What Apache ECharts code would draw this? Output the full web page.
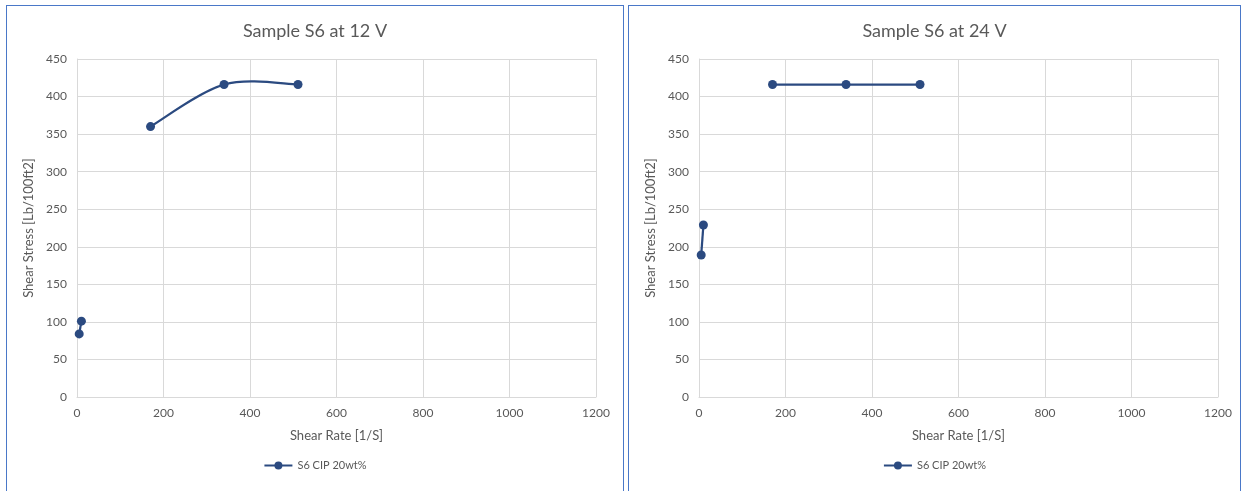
<!DOCTYPE html>
<html>
<head>
<meta charset="utf-8">
<script src="https://cdn.jsdelivr.net/npm/echarts@6/dist/echarts.min.js"></script>
<style>
  html, body { margin: 0; padding: 0; background: #ffffff; width: 1243px; height: 491px; overflow: hidden; }
  .panel { position: absolute; box-sizing: border-box; border: 1px solid #4a78c8; background: #fff; }
  #p1 { left: 6px; top: 5px; width: 618px; height: 500px; }
  #p2 { left: 628px; top: 5px; width: 613px; height: 500px; }
</style>
</head>
<body>
<div id="p1" class="panel"></div>
<div id="p2" class="panel"></div>
<script>
// Shear rate [1/S] and shear stress [Lb/100ft2]
const lowRate12 = [5.1, 10.2];
const lowStress12 = [84, 101];
const highRate12 = [170, 340, 511];
const highStress12 = [360, 416, 416];

const lowRate24 = [5.1, 10.2];
const lowStress24 = [189, 229];
const highRate24 = [170, 340, 511];
const highStress24 = [416, 416, 416];

const xTicks = [0, 200, 400, 600, 800, 1000, 1200];
const yTicks = [0, 50, 100, 150, 200, 250, 300, 350, 400, 450];

const titles = ['Sample S6 at 12 V', 'Sample S6 at 24 V'];
const seriesName = 'S6 CIP 20wt%';
const xName = 'Shear Rate [1/S]';
const yName = 'Shear Stress [Lb/100ft2]';

const FONT = 'Lato, "Liberation Sans", sans-serif';
const TXT = '#595959';
const GRID = '#d9d9d9';
const LINE = '#2b4a80';

function pairs(xs, ys) { return xs.map((x, i) => [x, ys[i]]); }

// Excel-style smoothed curve (Catmull-Rom based Bezier) through the data, via the axes' scales
function smoothCurveSeries(data) {
  return {
    type: 'custom',
    name: 'curve',
    coordinateSystem: 'cartesian2d',
    data: data,
    z: 2,
    silent: true,
    animation: false,
    renderItem: function (params, api) {
      if (params.dataIndex !== 0) return null;
      const pts = data.map(d => api.coord(d));
      const n = pts.length;
      const tan = pts.map((p, i) => {
        const a = pts[Math.max(0, i - 1)];
        const b = pts[Math.min(n - 1, i + 1)];
        return [(b[0] - a[0]) / 6, (b[1] - a[1]) / 6];
      });
      const pathData = [];
      pathData.push('M' + pts[0][0] + ' ' + pts[0][1]);
      for (let i = 0; i < n - 1; i++) {
        const p0 = pts[i], p1 = pts[i + 1];
        const c1 = [p0[0] + tan[i][0], p0[1] + tan[i][1]];
        const c2 = [p1[0] - tan[i + 1][0], p1[1] - tan[i + 1][1]];
        pathData.push('C' + c1[0] + ' ' + c1[1] + ' ' + c2[0] + ' ' + c2[1] + ' ' + p1[0] + ' ' + p1[1]);
      }
      return {
        type: 'path',
        shape: { pathData: pathData.join(' ') },
        style: { fill: null, stroke: LINE, lineWidth: 2.25 }
      };
    }
  };
}

function makeOption(title, lowX, lowY, highX, highY) {
  const mk = (data, showLine) => ({
    name: seriesName,
    type: 'line',
    data: data,
    smooth: false,
    symbol: 'circle',
    symbolSize: 9,
    z: 3,
    itemStyle: { color: LINE },
    lineStyle: { color: LINE, width: 2.25, opacity: showLine ? 1 : 0 },
    emphasis: { disabled: true },
    animation: false
  });
  const highData = pairs(highX, highY);
  return {
    animation: false,
    textStyle: { fontFamily: FONT },
    title: {
      text: title, left: 'center', top: 11,
      textStyle: { fontFamily: FONT, fontSize: 18, fontWeight: 'normal', color: TXT }
    },
    legend: {
      data: [seriesName], bottom: 28, left: 'center',
      itemWidth: 28, itemHeight: 10, itemGap: 4,
      textStyle: { fontFamily: FONT, fontSize: 11, color: TXT }
    },
    grid: { left: 70, top: 53, width: 519, height: 338 },
    xAxis: {
      type: 'value', min: xTicks[0], max: xTicks[xTicks.length - 1], interval: xTicks[1] - xTicks[0],
      name: xName, nameLocation: 'middle', nameGap: 32,
      nameTextStyle: { fontFamily: FONT, fontSize: 13, color: TXT },
      axisLine: { show: true, lineStyle: { color: GRID, width: 1 } },
      axisTick: { show: false },
      axisLabel: { fontFamily: FONT, fontSize: 12, color: TXT, margin: 10, formatter: v => String(v) },
      splitLine: { show: true, lineStyle: { color: GRID, width: 1 } }
    },
    yAxis: {
      type: 'value', min: yTicks[0], max: yTicks[yTicks.length - 1], interval: yTicks[1] - yTicks[0],
      name: yName, nameLocation: 'middle', nameGap: 33, nameRotate: 90,
      nameTextStyle: { fontFamily: FONT, fontSize: 13, color: TXT },
      axisLine: { show: true, lineStyle: { color: GRID, width: 1 } },
      axisTick: { show: false },
      axisLabel: { fontFamily: FONT, fontSize: 12, color: TXT, margin: 10, formatter: v => String(v) },
      splitLine: { show: true, lineStyle: { color: GRID, width: 1 } }
    },
    series: [mk(pairs(lowX, lowY), true), mk(highData, false), smoothCurveSeries(highData)]
  };
}

const c1 = echarts.init(document.getElementById('p1'), null, { renderer: 'canvas' });
c1.setOption(makeOption(titles[0], lowRate12, lowStress12, highRate12, highStress12));
const c2 = echarts.init(document.getElementById('p2'), null, { renderer: 'canvas' });
c2.setOption(makeOption(titles[1], lowRate24, lowStress24, highRate24, highStress24));
</script>
</body>
</html>
